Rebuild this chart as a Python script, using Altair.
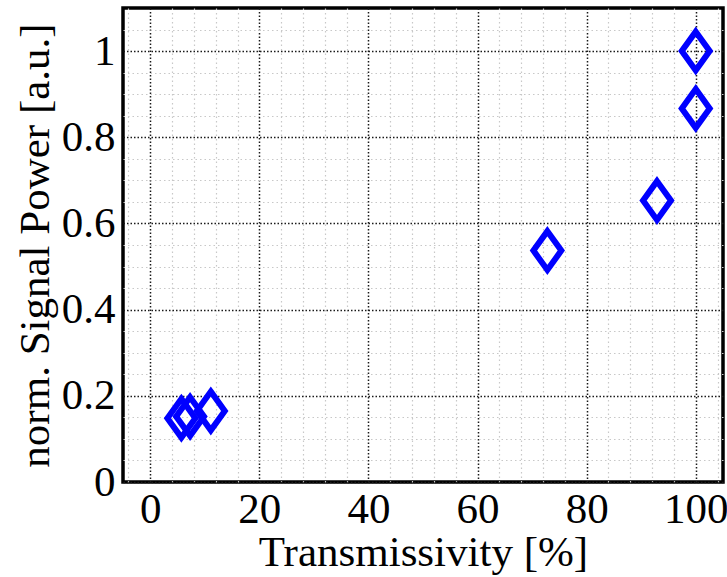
import altair as alt
import pandas as pd

# data
transmissivity = [5.7, 7.3, 11.1, 72.8, 92.9, 100.0, 100.0]
signal_power = [0.148, 0.152, 0.165, 0.537, 0.653, 0.867, 1.0]

# axis ticks / grid positions
x_ticks = [0, 20, 40, 60, 80, 100]
y_ticks = [0, 0.2, 0.4, 0.6, 0.8, 1.0]
x_minor = [-4, 4, 8, 12, 16, 24, 28, 32, 36, 44, 48, 52, 56, 64, 68, 72, 76, 84, 88, 92, 96, 104]
y_minor = [0.05, 0.1, 0.15, 0.25, 0.3, 0.35, 0.45, 0.5, 0.55, 0.65, 0.7, 0.75,
           0.85, 0.9, 0.95, 1.05]

df = pd.DataFrame({"t": transmissivity, "p": signal_power})

FONT = "Liberation Serif"
xs = alt.Scale(domain=[-5, 105], nice=False, zero=False)
ys = alt.Scale(domain=[0, 1.1], nice=False, zero=False)

minor = alt.Chart(df).mark_point(opacity=0).encode(
    x=alt.X("t:Q", scale=xs, axis=alt.Axis(orient="top", values=x_minor, labels=False, ticks=False,
                                            domain=False, title=None, grid=True, gridColor="#c8c8c8",
                                            gridDash=[1.5, 3], gridWidth=1.2)),
    y=alt.Y("p:Q", scale=ys, axis=alt.Axis(orient="right", values=y_minor, labels=False, ticks=False,
                                            domain=False, title=None, grid=True, gridColor="#c8c8c8",
                                            gridDash=[1.5, 3], gridWidth=1.2)),
)

diamond = "M0,-1L0.72,0L0,1L-0.72,0Z"

points = alt.Chart(df).mark_point(
    shape=diamond, size=1500, filled=False, stroke="#0000ff", strokeWidth=6, opacity=1
).encode(
    x=alt.X("t:Q", scale=xs, axis=alt.Axis(orient="bottom", values=x_ticks, format="d", ticks=False,
                                            domain=False, title="Transmissivity [%]", grid=True,
                                            gridColor="#1a1a1a", gridDash=[1.5, 2], gridWidth=1.5,
                                            labelPadding=6, titlePadding=0)),
    y=alt.Y("p:Q", scale=ys, axis=alt.Axis(orient="left", values=y_ticks, format="~g", ticks=False,
                                            domain=False, title="norm. Signal Power [a.u.]", grid=True,
                                            gridColor="#1a1a1a", gridDash=[1.5, 2], gridWidth=1.5,
                                            labelPadding=8, titlePadding=4)),
)

chart = alt.layer(minor, points).resolve_axis(x="independent", y="independent").properties(
    width=600, height=474,
    padding={"left": 123, "top": 8, "right": 4, "bottom": 95},
    autosize=alt.AutoSizeParams(type="none"),
    background="white",
).configure_view(
    stroke="black", strokeWidth=3.5
).configure_axis(
    labelFont=FONT, titleFont=FONT, labelFontSize=43, titleFontSize=43,
    labelColor="black", titleColor="black", titleFontWeight="normal",
)

chart.save("out.html", embed_options={"renderer": "svg", "actions": False})
